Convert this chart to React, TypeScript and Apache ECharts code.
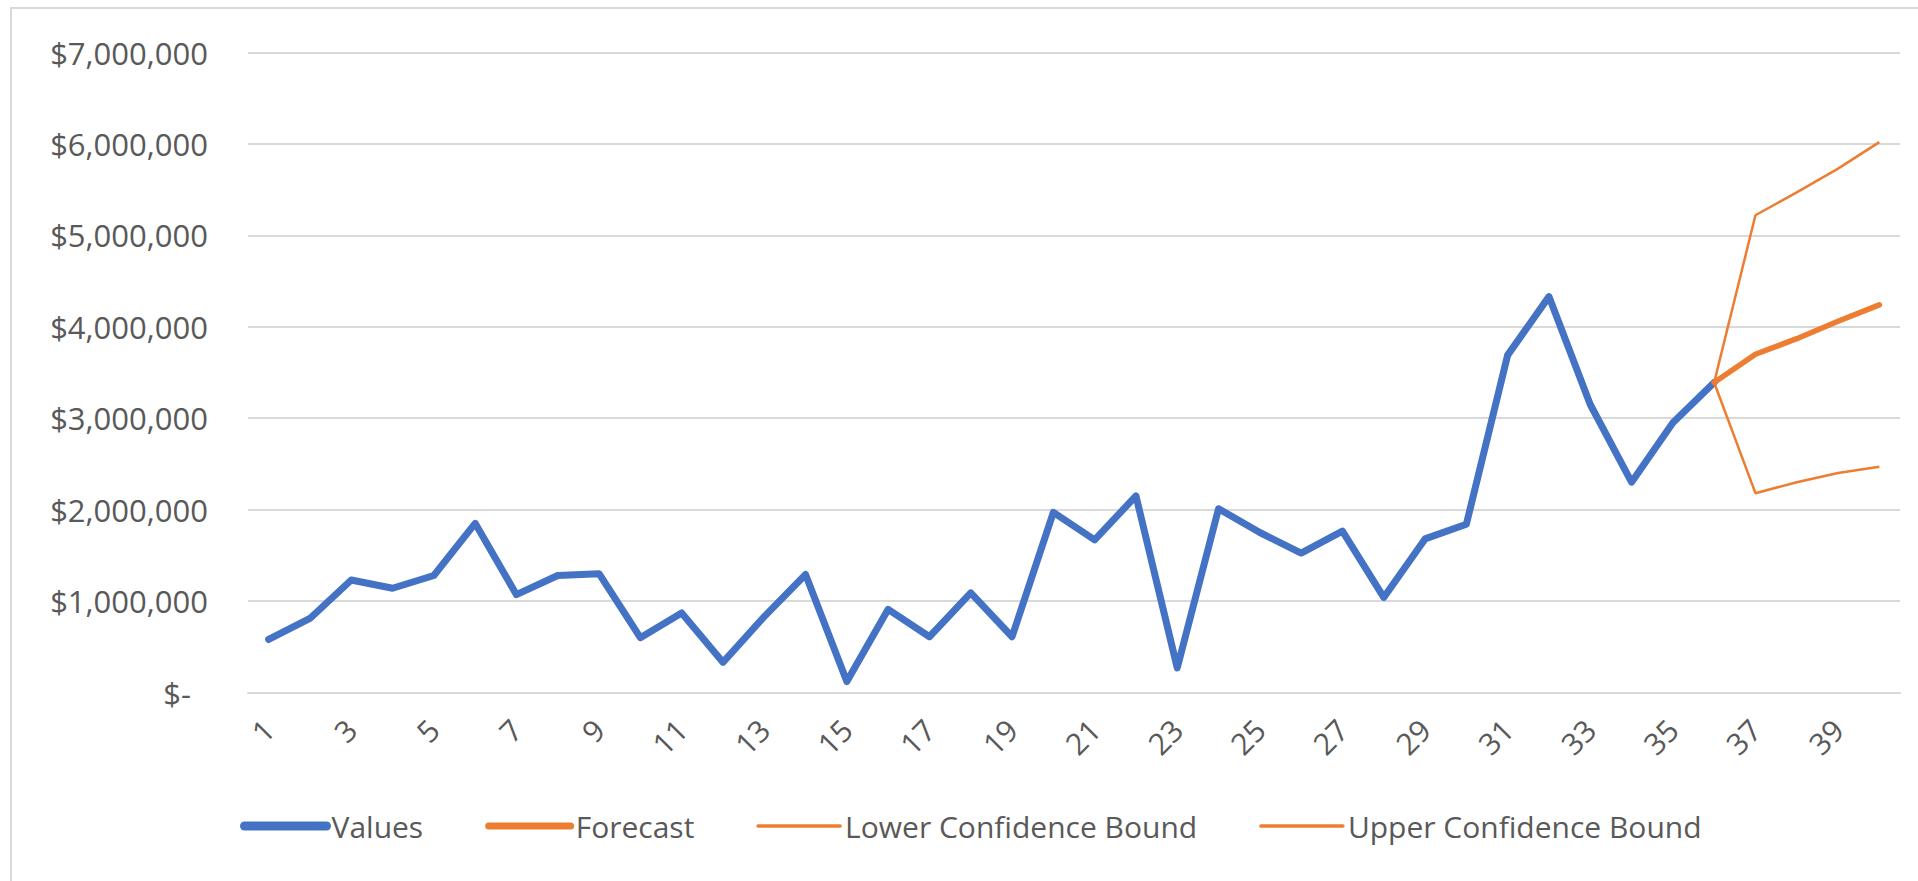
import React, { useEffect, useRef } from "react";
import * as echarts from "echarts";

const categories = [
  "1", "2", "3", "4", "5", "6", "7", "8", "9", "10",
  "11", "12", "13", "14", "15", "16", "17", "18", "19", "20",
  "21", "22", "23", "24", "25", "26", "27", "28", "29", "30",
  "31", "32", "33", "34", "35", "36", "37", "38", "39", "40",
];

const seriesNames = ["Values", "Forecast", "Lower Confidence Bound", "Upper Confidence Bound"];

const values = [
  580000, 810000, 1230000, 1140000, 1280000, 1850000, 1070000, 1280000, 1300000, 600000,
  870000, 330000, 830000, 1290000, 120000, 910000, 610000, 1090000, 610000, 1970000,
  1670000, 2150000, 270000, 2010000, 1750000, 1525000, 1765000, 1040000, 1680000, 1840000,
  3690000, 4330000, 3150000, 2300000, 2950000, 3390000, null, null, null, null,
];

const forecast = [
  null, null, null, null, null, null, null, null, null, null,
  null, null, null, null, null, null, null, null, null, null,
  null, null, null, null, null, null, null, null, null, null,
  null, null, null, null, null, 3390000, 3700000, 3870000, 4060000, 4240000,
];

const lowerBound = [
  null, null, null, null, null, null, null, null, null, null,
  null, null, null, null, null, null, null, null, null, null,
  null, null, null, null, null, null, null, null, null, null,
  null, null, null, null, null, 3390000, 2180000, 2300000, 2400000, 2470000,
];

const upperBound = [
  null, null, null, null, null, null, null, null, null, null,
  null, null, null, null, null, null, null, null, null, null,
  null, null, null, null, null, null, null, null, null, null,
  null, null, null, null, null, 3390000, 5220000, 5470000, 5730000, 6020000,
];

const BLUE = "#4472C4";
const ORANGE = "#ED7D31";
const GRID = "#D9D9D9";
const TEXT = "#595959";
const FONT = "'Open Sans', 'Liberation Sans', sans-serif";

const hidden = { opacity: 0, color: "transparent", borderWidth: 0 };

export default function App() {
  const ref = useRef<HTMLDivElement>(null);

  useEffect(() => {
    document.body.style.margin = "0";
    if (!ref.current) return;
    const chart = echarts.init(ref.current, null, { renderer: "svg" });
    const fmt = (v: number) =>
      v === 0 ? "{z|$-}" : "$" + v.toLocaleString("en-US");
    chart.setOption({
      animation: false,
      backgroundColor: "#ffffff",
      textStyle: { fontFamily: FONT },
      graphic: [
        {
          type: "rect",
          shape: { x: 11, y: 8, width: 1930, height: 900 },
          style: { fill: "none", stroke: GRID, lineWidth: 2 },
          silent: true,
        },
      ],
      grid: { left: 248, right: 18, top: 52.5, bottom: 188.5, containLabel: false },
      legend: {
        left: 235,
        top: 806,
        itemWidth: 82,
        itemHeight: 12,
        itemGap: 62,
        textStyle: { color: TEXT, fontSize: 30, fontFamily: FONT },
        data: [
          { name: seriesNames[0], itemStyle: hidden, lineStyle: { width: 9, cap: "round", color: BLUE } },
          { name: seriesNames[1], itemStyle: hidden, lineStyle: { width: 7, cap: "round", color: ORANGE } },
          { name: seriesNames[2], itemStyle: hidden, lineStyle: { width: 3.5, cap: "round", color: ORANGE } },
          { name: seriesNames[3], itemStyle: hidden, lineStyle: { width: 3.5, cap: "round", color: ORANGE } },
        ],
      },
      xAxis: {
        type: "category",
        data: categories,
        boundaryGap: true,
        axisLine: { show: true, lineStyle: { color: GRID, width: 2 } },
        axisTick: { show: false },
        splitLine: { show: false },
        axisLabel: {
          interval: 1,
          rotate: 45,
          margin: 32,
          color: TEXT,
          fontSize: 30,
          fontFamily: FONT,
        },
      },
      yAxis: {
        type: "value",
        min: 0,
        max: 7000000,
        interval: 1000000,
        axisLine: { show: false },
        axisTick: { show: false },
        splitLine: { lineStyle: { color: GRID, width: 2 } },
        axisLabel: {
          margin: 40,
          color: TEXT,
          fontSize: 31,
          fontFamily: FONT,
          formatter: fmt,
          rich: { z: { color: TEXT, fontSize: 31, fontFamily: FONT, padding: [0, 17, 0, 0] } },
        },
      },
      series: [
        {
          name: seriesNames[0],
          type: "line",
          data: values,
          symbol: "none",
          connectNulls: false,
          lineStyle: { color: BLUE, width: 7, cap: "round", join: "round" },
          itemStyle: { color: BLUE },
        },
        {
          name: seriesNames[1],
          type: "line",
          data: forecast,
          symbol: "none",
          lineStyle: { color: ORANGE, width: 5.5, cap: "round", join: "round" },
          itemStyle: { color: ORANGE },
        },
        {
          name: seriesNames[2],
          type: "line",
          data: lowerBound,
          symbol: "none",
          lineStyle: { color: ORANGE, width: 2.5, join: "round" },
          itemStyle: { color: ORANGE },
        },
        {
          name: seriesNames[3],
          type: "line",
          data: upperBound,
          symbol: "none",
          lineStyle: { color: ORANGE, width: 2.5, join: "round" },
          itemStyle: { color: ORANGE },
        },
      ],
    });
    return () => chart.dispose();
  }, []);

  return (
    <div
      ref={ref}
      style={{ position: "absolute", left: 0, top: 0, width: 1918, height: 881 }}
    />
  );
}
